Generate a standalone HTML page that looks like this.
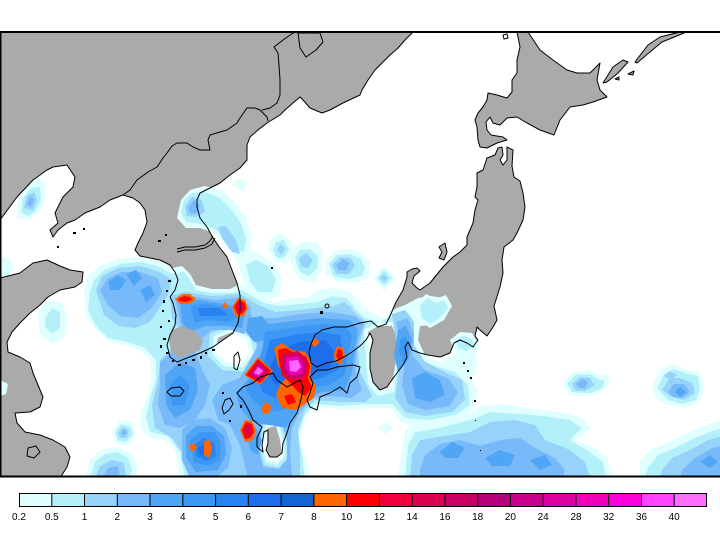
<!DOCTYPE html>
<html><head><meta charset="utf-8"><style>
html,body{margin:0;padding:0;background:#fff;}
svg{display:block;}
text{font-family:"Liberation Sans",sans-serif;font-size:10px;fill:#000;}
</style></head><body>
<svg width="720" height="540" viewBox="0 0 720 540" xmlns="http://www.w3.org/2000/svg">
<rect width="720" height="540" fill="#fff"/>
<defs>
<clipPath id="mc"><rect x="0" y="32" width="720" height="444"/></clipPath>
<path id="mainland" d="M0,32 L413,32 L405,40 L398,48 L390,55 L382,63 L375,70 L368,80 L362,90 L360,95 L343,103 L330,110 L322,113 L310,108 L303,100 L300,97 L293,103 L285,110 L280,115 L267,123 L258,130 L250,137 L247,145 L247,160 L240,168 L230,175 L220,183 L210,188 L200,193 L197,200 L197,207 L200,218 L207,227 L213,238 L220,248 L227,257 L232,270 L237,283 L240,295 L240,310 L238,323 L233,333 L223,340 L213,347 L200,353 L187,358 L177,362 L170,357 L167,345 L170,335 L175,325 L176,315 L173,303 L170,297 L175,290 L178,280 L175,272 L170,265 L160,260 L150,258 L140,256 L135,250 L138,243 L143,233 L147,222 L145,210 L140,203 L133,198 L123,195 L110,200 L100,207 L85,213 L75,220 L67,223 L58,230 L53,237 L50,230 L58,223 L55,213 L58,207 L63,197 L73,187 L75,177 L67,165 L53,167 L47,170 L33,180 L17,197 L0,220 Z"/>
<path id="china2" d="M0,278 L20,273 L33,263 L47,260 L60,266 L70,270 L83,272 L82,282 L75,287 L60,290 L48,297 L40,305 L30,313 L20,323 L12,332 L7,342 L8,352 L20,357 L30,363 L33,373 L38,385 L43,397 L40,407 L30,412 L15,413 L17,423 L25,432 L40,435 L53,440 L65,447 L70,457 L67,467 L60,478 L0,478 Z"/>
<path id="hokkaido" d="M517,32 L528,32 L540,50 L553,60 L567,70 L577,73 L590,73 L600,63 L597,80 L600,90 L607,97 L593,102 L583,105 L570,107 L560,120 L554,135 L540,130 L527,123 L517,117 L507,118 L500,125 L493,123 L490,117 L486,122 L487,130 L491,135 L503,137 L507,140 L497,143 L487,148 L480,147 L478,140 L477,127 L475,120 L478,113 L483,107 L487,100 L488,93 L497,95 L507,98 L512,92 L512,80 L517,73 L517,60 L520,47 Z"/>
<path id="kuril" d="M603,83 L613,67 L623,60 L628,62 L618,73 L607,82 Z M635,62 L648,45 L660,37 L680,32 L684,33 L662,42 L650,52 L637,63 Z M615,79 L619,77 L619,80 Z M628,74 L634,71 L633,75 Z"/>
<path id="honshu" d="M487,158 L495,155 L498,148 L502,147 L503,155 L500,160 L503,165 L507,160 L507,152 L507,147 L513,150 L512,166 L514,177 L520,181 L523,193 L525,207 L523,220 L517,233 L513,240 L504,247 L502,260 L503,273 L500,287 L494,306 L497,320 L493,327 L487,336 L480,330 L477,327 L475,336 L478,340 L473,347 L467,343 L460,340 L454,343 L450,353 L440,357 L428,355 L420,353 L412,350 L408,342 L405,347 L407,357 L403,365 L400,369 L394,377 L387,387 L380,390 L373,382 L370,368 L370,353 L373,340 L370,333 L366,340 L360,346 L352,352 L344,357 L336,361 L326,363 L317,367 L311,363 L309,352 L311,344 L315,335 L322,330 L334,327 L347,327 L360,323 L371,321 L378,327 L386,324 L390,316 L396,302 L403,290 L407,277 L407,272 L412,269 L417,268 L420,271 L414,276 L412,283 L417,288 L420,290 L430,283 L443,267 L453,257 L460,252 L467,245 L467,237 L473,223 L475,210 L478,200 L475,197 L477,187 L477,173 L483,170 Z"/>
<path id="kyushu" d="M260,377 L273,373 L277,380 L287,387 L300,380 L303,387 L302,395 L300,403 L297,413 L290,423 L287,433 L283,443 L282,453 L277,457 L270,457 L266,450 L268,443 L268,430 L264,432 L262,445 L263,452 L257,447 L257,438 L262,427 L253,420 L250,413 L247,407 L243,400 L240,397 L237,393 L243,387 L253,383 Z"/>
<path id="shikoku" d="M310,377 L317,370 L327,370 L337,367 L353,365 L360,367 L357,377 L350,383 L347,393 L340,387 L330,393 L320,397 L317,410 L310,407 L307,400 L310,393 L313,383 Z"/>
<path id="sado" d="M439,247 L445,243 L447,252 L444,260 L439,258 L442,252 Z"/>
<path id="tsushima" d="M234,356 L238,352 L240,360 L237,370 L234,368 Z"/>
<path id="jeju" d="M167,392 L171,388 L180,387 L184,391 L180,396 L171,396 Z"/>
</defs>

<g clip-path="url(#mc)">
<!-- land fills -->
<g fill="#aaaaaa" stroke="none">
<use href="#mainland"/><use href="#china2"/><use href="#hokkaido"/><use href="#kuril"/><use href="#honshu"/><use href="#kyushu"/><use href="#shikoku"/><use href="#sado"/><use href="#jeju"/>
</g>

<!-- precipitation L1 -->
<g fill="#e0ffff">
<path d="M17,218 L18,200 L27,186 L37,178 L45,182 L45,198 L40,212 L30,220 Z
M177,218 L181,200 L190,190 L205,186 L222,190 L236,203 L246,218 L252,236 L250,258 L245,262 L236,258 L226,246 L214,233 L200,228 L186,228 Z
M236,258 L250,250 L262,255 L272,262 L282,276 L280,296 L266,300 L252,296 L244,284 Z
M232,184 L240,178 L248,184 L242,192 Z
M268,250 L271,239 L280,233 L290,239 L293,252 L287,263 L276,263 Z
M290,255 L294,246 L303,242 L316,242 L323,252 L322,270 L315,282 L301,281 L293,270 Z
M325,262 L334,251 L350,249 L362,254 L370,262 L369,278 L356,283 L338,282 L326,274 Z
M384,266 L396,278 L384,291 L373,278 Z
M268,313 L278,305 L292,306 L298,314 L290,322 L274,321 Z
M305,300 L318,290 L335,288 L350,292 L358,300 L362,312 L355,322 L340,326 L318,322 L306,312 Z
M562,384 L572,372 L590,370 L600,376 L608,374 L610,384 L600,392 L585,396 L570,396 Z
M652,386 L660,370 L672,364 L688,370 L700,372 L704,388 L700,402 L685,408 L665,404 L655,398 Z
M640,462 L650,450 L668,442 L690,432 L705,425 L722,420 L722,478 L640,478 Z
M398,478 L402,450 L405,430 L420,422 L445,420 L470,414 L480,406 L500,404 L525,408 L545,410 L565,413 L583,418 L590,428 L582,436 L575,440 L595,448 L607,458 L612,478 Z
M0,380 L8,384 L6,394 L0,396 Z
M38,312 L48,300 L62,302 L68,318 L64,338 L52,344 L40,334 Z
M-2,256 L10,258 L14,268 L8,276 L-2,276 Z
M85,478 L90,460 L100,450 L115,447 L130,452 L138,465 L135,478 Z
M112,432 L120,420 L132,422 L136,434 L128,446 L116,444 Z
M416,304 L426,294 L436,299 L446,295 L452,306 L444,320 L430,328 L418,320 Z
M450,340 L460,332 L472,333 L480,346 L470,355 L455,352 Z
M378,428 L386,422 L394,428 L386,434 Z"/>
<path fill-rule="evenodd" d="M84,292 L88,276 L100,266 L118,259 L140,257 L160,261 L172,268 L182,266 L190,274 L196,285 L212,289 L230,289 L240,284 L250,290 L262,298 L275,302 L290,299 L310,297 L335,294 L355,298 L370,312 L385,318 L392,310 L405,305 L418,298 L430,296 L445,298 L450,308 L445,318 L432,325 L420,326 L418,340 L425,355 L440,362 L455,355 L465,345 L475,350 L478,365 L472,378 L478,392 L472,410 L460,420 L440,425 L415,428 L400,422 L392,408 L370,408 L350,410 L330,408 L310,410 L305,420 L300,440 L305,455 L310,478 L180,478 L175,450 L165,440 L150,438 L140,428 L142,410 L148,395 L152,378 L150,360 L140,350 L125,345 L110,342 L98,332 L86,318 Z
M218,338 L232,332 L246,340 L250,352 L240,364 L226,362 L216,352 Z
M368,332 L378,326 L392,326 L398,340 L396,360 L392,385 L380,392 L372,380 L370,360 Z
M268,428 L276,426 L280,440 L282,455 L276,462 L268,460 L264,445 Z"/>
</g>

<!-- L2 -->
<g fill="#b4f0fa">
<path d="M21,212 L23,198 L31,188 L40,187 L41,200 L35,212 L28,216 Z
M181,212 L184,200 L192,193 L205,192 L220,198 L232,210 L242,225 L246,240 L244,252 L236,250 L226,238 L212,227 L196,223 L186,222 Z
M246,265 L256,260 L268,266 L276,280 L272,292 L258,292 L250,282 Z
M273,250 L276,242 L284,240 L289,250 L284,258 L277,258 Z
M295,258 L300,250 L310,249 L318,256 L317,268 L309,276 L300,272 Z
M329,264 L337,255 L350,254 L361,259 L365,268 L362,276 L348,279 L333,276 Z
M384,270 L392,278 L384,286 L377,278 Z
M277,314 L281,310 L285,314 L281,318 Z
M318,302 L332,296 L346,298 L354,306 L352,316 L340,320 L326,316 Z
M567,384 L575,375 L590,374 L600,380 L604,380 L603,388 L590,393 L572,392 Z
M657,388 L664,374 L674,369 L688,374 L698,376 L700,390 L696,400 L682,404 L668,400 Z
M648,468 L658,455 L675,448 L695,438 L710,432 L722,428 L722,478 L645,478 Z
M405,478 L408,445 L415,432 L440,428 L470,420 L490,412 L520,414 L545,416 L570,420 L582,428 L570,440 L590,452 L603,462 L606,478 Z
M90,478 L95,462 L105,454 L118,452 L128,458 L132,470 L130,478 Z
M115,433 L121,424 L130,426 L133,434 L126,442 L118,441 Z
M45,318 L52,308 L60,312 L60,328 L52,334 L46,328 Z
M420,305 L428,298 L436,303 L444,300 L448,308 L440,318 L430,324 L422,318 Z
M456,340 L463,336 L472,339 L474,347 L466,351 L458,348 Z"/>
<path fill-rule="evenodd" d="M90,292 L94,280 L104,270 L120,264 L140,262 L158,266 L172,274 L184,272 L190,280 L196,290 L212,293 L232,293 L242,290 L252,296 L264,303 L280,306 L300,304 L330,300 L350,304 L365,318 L380,322 L392,316 L405,310 L412,318 L414,335 L412,345 L418,358 L435,366 L455,372 L468,385 L470,405 L455,415 L430,420 L405,418 L392,404 L365,404 L340,406 L315,404 L305,415 L298,435 L302,455 L305,478 L185,478 L180,452 L168,436 L150,432 L146,418 L150,398 L156,380 L156,360 L145,348 L128,342 L108,338 L96,326 L88,310 Z
M214,336 L232,328 L250,338 L254,354 L242,368 L224,366 L212,354 Z
M364,330 L378,322 L394,322 L400,340 L398,362 L394,392 L378,396 L368,384 L366,360 Z
M266,425 L278,423 L283,440 L285,456 L277,465 L266,462 L262,445 Z"/>
</g>

<!-- L3 -->
<g fill="#96d2fa">
<path d="M24,208 L27,196 L34,192 L37,200 L33,210 Z
M185,206 L192,197 L202,200 L205,212 L196,217 L187,216 Z
M218,227 L226,226 L236,240 L240,254 L232,252 L222,238 Z
M277,250 L280,244 L285,248 L282,255 Z
M299,258 L306,253 L313,260 L308,268 L301,266 Z
M332,265 L340,257 L351,258 L355,266 L349,274 L337,274 Z
M384,274 L388,278 L384,282 L380,278 Z
M334,306 L344,302 L352,308 L348,316 L338,316 Z
M96,290 L102,276 L118,268 L140,266 L160,272 L172,280 L168,295 L158,310 L150,322 L135,328 L118,326 L104,315 Z
M392,314 L405,310 L414,322 L414,345 L425,362 L445,372 L462,380 L465,400 L452,412 L425,416 L405,412 L395,398 L398,378 L400,355 L395,335 Z
M572,384 L580,377 L590,378 L594,385 L585,391 L575,390 Z
M662,390 L670,378 L680,378 L692,383 L695,393 L684,400 L670,396 Z
M664,376 L670,371 L677,375 L671,380 Z
M660,478 L662,470 L672,458 L690,450 L708,440 L722,436 L722,478 Z
M410,478 L412,455 L420,440 L445,436 L470,432 L490,422 L515,420 L535,425 L545,440 L570,450 L585,462 L590,478 Z
M95,478 L100,466 L112,460 L124,463 L126,478 Z
M118,433 L123,427 L129,430 L127,438 L120,438 Z"/>
<path fill-rule="evenodd" d="M170,296 L185,292 L212,296 L240,294 L256,304 L275,312 L300,310 L330,306 L352,310 L366,322 L362,336 L358,350 L360,372 L372,396 L365,402 L340,402 L315,400 L305,410 L298,430 L300,455 L300,478 L190,478 L184,455 L172,438 L155,428 L152,405 L158,380 L160,360 L172,348 L185,345 L180,330 L172,318 Z
M210,334 L232,324 L254,336 L258,356 L244,372 L222,370 L208,356 Z
M264,422 L280,420 L286,440 L288,458 L278,468 L264,465 L259,445 Z"/>
</g>

<!-- L4 -->
<g fill="#78b9fa">
<path d="M27,204 L30,197 L34,199 L31,207 Z
M188,207 L194,200 L200,206 L196,214 L190,213 Z
M336,265 L343,259 L350,263 L346,270 L339,270 Z
M100,290 L108,278 L122,272 L140,272 L158,278 L162,292 L152,308 L138,318 L120,316 L108,305 Z
M175,298 L190,296 L215,300 L238,298 L250,306 L252,320 L244,334 L230,330 L212,330 L200,340 L190,340 L182,330 Z
M160,362 L175,350 L195,352 L200,365 L210,385 L205,405 L195,420 L180,428 L165,425 L158,405 L160,385 Z
M182,430 L192,420 L210,418 L225,428 L232,448 L228,468 L215,478 L190,478 L182,460 Z
M396,322 L408,318 L414,335 L412,355 L425,370 L448,378 L458,392 L450,406 L425,410 L408,404 L402,385 L405,360 L400,340 Z
M576,384 L582,379 L588,382 L585,388 L579,388 Z
M668,392 L674,384 L684,384 L690,392 L682,398 L673,397 Z
M680,478 L682,470 L695,458 L712,448 L722,446 L722,478 Z
M420,470 L425,455 L440,444 L460,440 L480,446 L500,440 L520,438 L535,448 L555,458 L565,470 L562,478 L420,478 Z
M102,478 L108,468 L118,466 L120,478 Z
M121,433 L124,429 L127,433 L124,436 Z"/>
<path fill-rule="evenodd" d="M255,318 L275,318 L300,314 L330,312 L355,316 L364,324 L358,340 L355,370 L362,390 L352,398 L330,396 L312,398 L300,412 L292,428 L290,448 L292,478 L248,478 L240,445 L230,425 L218,420 L212,400 L222,385 L240,378 L250,360 L258,345 L250,330 Z
M263,421 L281,419 L287,440 L287,460 L279,469 L263,467 L258,445 Z"/>
</g>

<!-- L5 -->
<path fill="#50a5f5" d="M108,282 L118,275 L126,280 L120,290 L110,290 Z
M126,274 L136,270 L142,278 L134,286 Z
M140,290 L150,285 L155,295 L146,302 Z
M180,302 L200,300 L230,305 L245,312 L242,328 L225,326 L205,326 L190,332 L182,322 Z
M165,375 L180,362 L195,368 L198,390 L190,410 L175,418 L166,405 Z
M262,325 L285,322 L320,318 L350,320 L358,330 L355,350 L352,372 L345,390 L322,392 L305,398 L295,415 L286,428 L275,426 L262,424 L250,420 L240,408 L236,392 L248,380 L258,360 L265,342 Z
M246,430 L256,428 L262,440 L258,455 L250,450 Z
M186,436 L196,426 L212,426 L224,436 L226,455 L218,470 L196,472 L186,458 Z
M398,330 L406,326 L412,340 L408,360 L398,372 L394,355 Z
M412,378 L425,372 L440,380 L445,395 L430,402 L415,398 Z
M248,318 L262,316 L272,328 L266,340 L254,342 L246,332 Z
M440,452 L452,442 L465,448 L458,458 L445,458 Z
M485,458 L500,450 L515,455 L510,466 L492,466 Z
M530,460 L545,455 L552,465 L540,470 Z
M675,392 L680,387 L686,392 L680,397 Z
M700,462 L710,455 L718,462 L710,468 Z"/>

<!-- L6 -->
<path fill="#3c97f5" d="M190,305 L210,304 L230,308 L238,318 L228,322 L210,320 L195,322 Z
M265,332 L290,328 L320,324 L345,326 L352,336 L348,355 L345,375 L330,385 L310,388 L298,395 L285,410 L270,412 L255,402 L246,390 L255,372 L262,352 Z
M190,440 L200,432 L214,432 L221,442 L220,460 L208,466 L194,462 Z
M170,385 L180,375 L190,385 L185,405 L172,405 Z
M400,340 L406,336 L409,350 L404,362 L399,352 Z"/>

<!-- L7 -->
<path fill="#2882f0" d="M270,340 L295,335 L320,332 L340,335 L342,350 L338,370 L322,378 L305,382 L290,392 L275,398 L262,392 L258,378 L265,360 Z
M194,445 L204,438 L214,442 L216,456 L206,461 L196,456 Z
M198,308 L220,308 L228,315 L212,316 L200,316 Z"/>

<!-- L8 -->
<path fill="#1e6eeb" d="M278,350 L300,342 L325,340 L335,352 L330,368 L310,375 L290,382 L275,385 L268,372 Z
M198,448 L206,443 L212,448 L210,456 L200,455 Z"/>

<!-- SW Korea bare land -->
<path fill="#aaaaaa" d="M172,330 L182,326 L195,331 L203,341 L200,350 L188,355 L178,358 L171,351 L169,340 Z"/>

<!-- extremes: orange -->
<path fill="#ff6600" d="M258,357 L273,371 L260,385 L244,375 Z
M274,348 L282,343 L292,350 L305,352 L312,362 L310,376 L316,386 L314,398 L305,404 L296,410 L282,408 L276,395 L280,385 L286,378 L278,365 Z
M337,346 L343,348 L345,356 L341,364 L335,362 L334,354 Z
M310,343 L315,338 L320,342 L315,347 Z
M175,299 L182,294 L190,294 L196,299 L190,304 L180,304 Z
M232,307 L238,298 L245,300 L248,308 L244,316 L236,317 Z
M240,430 L245,420 L252,421 L256,430 L253,440 L245,442 Z
M261,408 L266,402 L271,406 L270,413 L263,414 Z
M188,446 L194,443 L197,448 L192,452 Z
M204,441 L210,440 L212,450 L209,458 L204,455 Z
M222,306 L225,302 L228,306 L225,309 Z"/>
<!-- red -->
<path fill="#ff0000" d="M258,359 L271,371 L260,383 L246,375 Z
M278,350 L286,348 L296,354 L306,356 L310,366 L308,378 L312,388 L305,396 L298,392 L292,385 L282,375 L279,362 Z
M284,396 L292,394 L296,402 L288,405 Z
M338,349 L342,350 L343,357 L339,361 L336,356 Z
M178,299 L184,296 L190,297 L192,300 L185,302 L179,301 Z
M234,306 L239,300 L245,303 L246,309 L242,314 L237,314 Z
M242,430 L246,422 L252,424 L254,432 L250,438 L245,439 Z"/>
<!-- magenta levels -->
<path fill="#e0004a" d="M258,361 L269,371 L260,381 L248,375 Z
M282,354 L298,351 L307,359 L307,375 L300,381 L287,379 L281,368 Z
M236,306 L240,302 L244,305 L243,311 L238,312 Z
M244,430 L247,424 L252,427 L252,434 L247,436 Z"/>
<path fill="#c80064" d="M258,363 L267,371 L259,379 L250,374 Z
M284,356 L298,354 L305,361 L305,374 L299,379 L288,377 L283,368 Z"/>
<path fill="#ee00bb" d="M258,365 L265,371 L259,377 L252,374 Z
M286,358 L298,356 L303,364 L302,374 L290,375 L285,368 Z"/>
<path fill="#ff66ff" d="M258,367 L263,371 L259,375 L254,373 Z
M289,361 L298,360 L301,367 L296,372 L290,371 Z"/>

<!-- coastlines -->
<g fill="none" stroke="#000" stroke-width="1" stroke-linejoin="round">
<use href="#mainland"/><use href="#china2"/><use href="#hokkaido"/><use href="#kuril"/><use href="#honshu"/><use href="#kyushu"/><use href="#shikoku"/><use href="#sado"/><use href="#tsushima"/><use href="#jeju"/>
<!-- borders -->
<polyline points="123,195 130,190 137,180 148,172 157,167 163,158 167,153 172,146 177,143 187,143 193,147 200,150 210,150 208,140 210,135 220,132 227,130 237,123 240,118 247,108 255,108 260,110 267,117 268,121"/>
<polyline points="262,110 270,108 277,103 280,95 280,80 279,65 278,53 274,47 283,40 293,33 297,32"/>
<path d="M298,33 L320,33 L323,42 L316,50 L306,57 L300,48 Z"/>
<polyline points="177,249 185,247 195,247 205,245 210,241 213,236"/>
<polyline points="177,252 185,250 195,250 205,248 212,244 215,238"/>
<!-- small island outlines -->
<circle cx="327" cy="306" r="2"/>
<path d="M225,400 L230,398 L233,404 L229,410 L224,414 L222,408 Z"/>
<path d="M28,448 L36,446 L40,452 L34,458 L27,456 Z"/>
<path d="M503,35 L507,34 L508,38 L504,39 Z"/>
</g>
<!-- jagged islands (black dots) -->
<g fill="#000">
<rect x="163" y="338" width="3" height="2"/><rect x="160" y="345" width="2" height="3"/><rect x="166" y="352" width="3" height="2"/>
<rect x="172" y="360" width="2" height="2"/><rect x="178" y="364" width="3" height="2"/><rect x="185" y="362" width="2" height="2"/>
<rect x="192" y="359" width="3" height="2"/><rect x="200" y="356" width="2" height="3"/><rect x="205" y="352" width="2" height="2"/>
<rect x="212" y="349" width="3" height="2"/><rect x="166" y="290" width="2" height="2"/><rect x="168" y="280" width="3" height="2"/>
<rect x="163" y="300" width="2" height="3"/><rect x="162" y="310" width="2" height="2"/><rect x="168" y="320" width="2" height="2"/>
<rect x="160" y="326" width="2" height="2"/><rect x="165" y="234" width="2" height="2"/><rect x="158" y="240" width="3" height="2"/>
<rect x="320" y="311" width="3" height="3"/><rect x="271" y="267" width="2" height="2"/>
<rect x="463" y="362" width="2" height="2"/><rect x="467" y="370" width="2" height="2"/><rect x="470" y="377" width="2" height="2"/>
<rect x="474" y="400" width="2" height="2"/><rect x="475" y="420" width="1" height="1"/><rect x="480" y="450" width="1" height="1"/>
<rect x="73" y="232" width="3" height="2"/><rect x="83" y="228" width="2" height="2"/><rect x="57" y="246" width="2" height="2"/>
<rect x="222" y="392" width="2" height="2"/><rect x="240" y="405" width="2" height="3"/><rect x="229" y="420" width="2" height="2"/>
</g>
</g>

<!-- map frame -->
<line x1="0" y1="32" x2="720" y2="32" stroke="#000" stroke-width="2"/>
<line x1="0" y1="476.5" x2="720" y2="476.5" stroke="#000" stroke-width="2"/>
<line x1="0.75" y1="32" x2="0.75" y2="477" stroke="#000" stroke-width="1.5"/>

<!-- colorbar -->
<g stroke="none">
<rect x="19" y="493" width="32.76" height="13" fill="#e0ffff"/>
<rect x="51.76" y="493" width="32.76" height="13" fill="#b4f0fa"/>
<rect x="84.52" y="493" width="32.77" height="13" fill="#96d2fa"/>
<rect x="117.29" y="493" width="32.76" height="13" fill="#78b9fa"/>
<rect x="150.05" y="493" width="32.76" height="13" fill="#50a5f5"/>
<rect x="182.81" y="493" width="32.76" height="13" fill="#3c97f5"/>
<rect x="215.57" y="493" width="32.76" height="13" fill="#2882f0"/>
<rect x="248.33" y="493" width="32.77" height="13" fill="#1e6eeb"/>
<rect x="281.1" y="493" width="32.76" height="13" fill="#1464d2"/>
<rect x="313.86" y="493" width="32.76" height="13" fill="#ff6600"/>
<rect x="346.62" y="493" width="32.76" height="13" fill="#ff0000"/>
<rect x="379.38" y="493" width="32.76" height="13" fill="#f0003c"/>
<rect x="412.14" y="493" width="32.76" height="13" fill="#dc0050"/>
<rect x="444.9" y="493" width="32.77" height="13" fill="#c80064"/>
<rect x="477.67" y="493" width="32.76" height="13" fill="#b4007a"/>
<rect x="510.43" y="493" width="32.76" height="13" fill="#c8008c"/>
<rect x="543.19" y="493" width="32.76" height="13" fill="#dc00a0"/>
<rect x="575.95" y="493" width="32.76" height="13" fill="#f000b9"/>
<rect x="608.71" y="493" width="32.77" height="13" fill="#ff00dc"/>
<rect x="641.48" y="493" width="32.76" height="13" fill="#ff44ff"/>
<rect x="674.24" y="493" width="32.76" height="13" fill="#ff6eff"/>
</g>
<g stroke="#000" stroke-width="1" fill="none">
<rect x="19.5" y="493.5" width="687" height="13"/>
<path d="M51.8,493V507M84.5,493V507M117.3,493V507M150,493V507M182.8,493V507M215.6,493V507M248.3,493V507M281.1,493V507M313.9,493V507M346.6,493V507M379.4,493V507M412.1,493V507M444.9,493V507M477.7,493V507M510.4,493V507M543.2,493V507M576,493V507M608.7,493V507M641.5,493V507M674.2,493V507"/>
</g>
<g text-anchor="middle">
<text x="19" y="520">0.2</text><text x="51.8" y="520">0.5</text><text x="84.5" y="520">1</text>
<text x="117.3" y="520">2</text><text x="150" y="520">3</text><text x="182.8" y="520">4</text>
<text x="215.6" y="520">5</text><text x="248.3" y="520">6</text><text x="281.1" y="520">7</text>
<text x="313.9" y="520">8</text><text x="346.6" y="520">10</text><text x="379.4" y="520">12</text>
<text x="412.1" y="520">14</text><text x="444.9" y="520">16</text><text x="477.7" y="520">18</text>
<text x="510.4" y="520">20</text><text x="543.2" y="520">24</text><text x="576" y="520">28</text>
<text x="608.7" y="520">32</text><text x="641.5" y="520">36</text><text x="674.2" y="520">40</text>
</g>
</svg>
</body></html>
